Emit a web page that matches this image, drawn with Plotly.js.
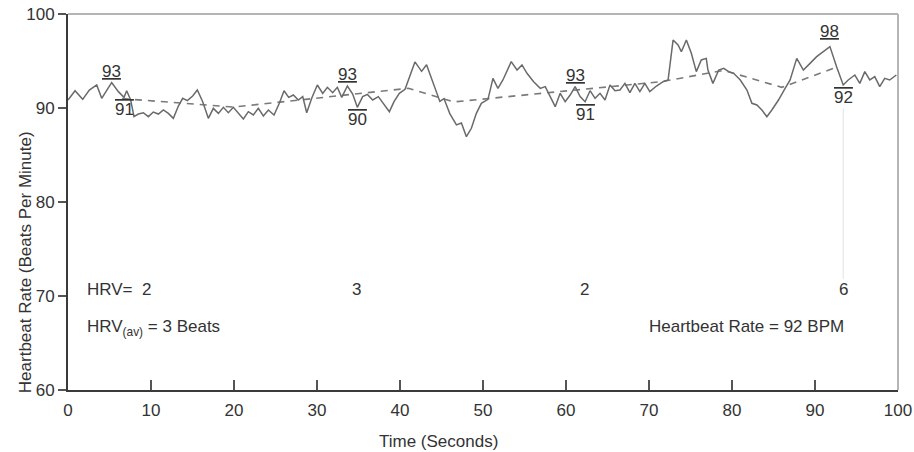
<!DOCTYPE html>
<html>
<head>
<meta charset="utf-8">
<script src="https://cdn.plot.ly/plotly-3.0.1.min.js"></script>
<style>html,body{margin:0;padding:0;background:#fff;}#chart{width:914px;height:452px;}</style>
</head>
<body>
<div id="chart"></div>
<script>
// Heartbeat trace (time in seconds, beats per minute)
const timeSec = [0,0.85,1.77,2.57,3.46,4.06,4.74,5.26,6.07,6.75,7.07,7.55,7.95,8.48,9.08,9.68,10.28,10.89,11.49,12.09,
  12.69,13.3,13.82,14.38,15.02,15.58,16.23,16.91,17.51,18.12,18.72,19.32,19.92,20.52,21.13,21.73,22.33,22.93,23.54,24.14,
  24.82,25.46,26.03,26.59,27.15,27.75,28.28,28.76,29.36,30.04,30.69,31.25,31.89,32.45,32.98,33.66,34.3,34.86,35.5,36.07,
  36.71,37.39,37.99,38.72,39.28,39.92,40.61,
  41.8,42.6,43.2,44.8,45.3,46.0,46.8,47.4,48.0,48.6,49.2,49.8,
  50.6,51.2,51.8,52.4,53.4,54.1,54.7,55.3,56.1,56.9,57.5,58.1,58.7,59.3,59.9,60.5,61.1,61.7,62.3,62.9,
  63.5,64.1,64.7,65.3,65.9,66.5,67.1,67.7,68.3,68.9,69.5,70.1,70.9,71.7,72.3,72.9,73.5,73.9,74.5,75.1,
  75.7,76.3,76.9,77.1,77.7,78.4,79.0,79.6,80.2,81.0,81.8,82.4,83.0,83.6,84.2,84.8,85.6,86.4,87.0,87.8,
  88.6,89.4,90.2,91.0,91.8,92.6,93.4,94.0,94.8,95.4,96.0,96.6,97.2,97.8,98.4,99.0,99.8];
const bpm = [90.85,91.84,90.92,91.91,92.45,91.03,91.99,92.7,91.74,91.13,91.84,90.85,89.08,89.36,89.5,89.08,89.57,89.36,89.79,89.43,
  88.9,90.21,91.03,90.78,91.28,91.91,90.67,88.9,89.96,89.43,90.07,89.5,90.07,89.43,88.83,89.61,89.26,89.96,89.15,89.79,
  89.26,90.5,91.84,91.13,91.38,90.85,91.21,89.5,91.03,92.45,91.56,92.2,91.63,92.2,91.13,92.34,91.49,90.07,91.21,91.45,
  90.85,91.21,90.43,89.61,90.67,91.56,91.99,
  94.9,93.9,94.6,90.7,91.0,89.4,88.2,88.4,86.95,87.84,89.43,90.5,
  90.92,93.16,92.09,92.98,94.93,94.04,94.58,93.69,92.8,92.09,92.27,91.21,90.14,91.56,90.67,91.38,92.27,91.21,90.67,91.84,
  91.03,91.56,90.85,92.45,91.84,91.91,92.62,91.63,92.62,91.74,92.62,91.74,92.34,92.8,92.98,97.23,96.7,95.99,97.23,95.82,
  93.87,95.11,95.28,94.04,92.62,94.04,94.22,93.87,93.69,92.98,91.91,90.5,90.32,89.79,89.08,89.79,90.85,92.09,92.98,95.28,
  94.04,94.75,95.46,95.99,96.53,94.4,92.45,92.98,93.51,92.62,93.87,92.98,93.33,92.27,93.16,92.98,93.51];

// Dashed running-average trend
const trendTime = [6.5, 20, 41, 46.5, 71.5, 79, 86, 92.5];
const trendBpm  = [91.0, 90.1, 92.1, 90.65, 92.8, 94.0, 92.2, 94.3];

// Peak / trough labels
const peakTime   = [5.26, 33.66, 61.1, 91.8];
const peakVal    = [93, 93, 93, 98];
const troughTime = [6.75, 34.86, 62.3, 93.4];
const troughVal  = [91, 90, 91, 92];

// HRV per window
const hrvTime = [9.5, 34.7, 62.2, 93.4];
const hrvVal  = [2, 3, 2, 6];
const hrvAvg = 3;
const heartRate = 92;

const FONT = 'Liberation Sans, Arial, sans-serif';
const TXT = '#333333';

function interp(t) {
  for (let i = 0; i < timeSec.length - 1; i++) {
    if (t >= timeSec[i] && t <= timeSec[i + 1]) {
      const f = (t - timeSec[i]) / (timeSec[i + 1] - timeSec[i]);
      return bpm[i] + f * (bpm[i + 1] - bpm[i]);
    }
  }
  return bpm[bpm.length - 1];
}

const traces = [
  {x: [hrvTime[3], hrvTime[3]], y: [71.8, interp(troughTime[3]) - 2.5], mode: 'lines',
   line: {color: '#e2e2e2', width: 1}, hoverinfo: 'skip', showlegend: false},
  {x: trendTime, y: trendBpm, mode: 'lines', line: {color: '#7a7a7a', width: 1.6, dash: '7px,6px'},
   hoverinfo: 'skip', showlegend: false},
  {x: timeSec, y: bpm, mode: 'lines', line: {color: '#6a6a6a', width: 1.5}, showlegend: false}
];

const ann = [];
peakTime.forEach((t, i) => {
  ann.push({x: t, y: interp(t), xref: 'x', yref: 'y', text: '<u>' + peakVal[i] + '</u>', showarrow: false,
    xanchor: 'center', yanchor: 'bottom', yshift: i === 3 ? 4 : 0, font: {family: FONT, size: 17, color: TXT}});
});
troughTime.forEach((t, i) => {
  ann.push({x: t, y: interp(t), xref: 'x', yref: 'y',
    text: '<span style="text-decoration:overline">' + troughVal[i] + '</span>', showarrow: false,
    xanchor: 'center', yanchor: 'top', yshift: -1, font: {family: FONT, size: 17, color: TXT}});
});
hrvTime.forEach((t, i) => {
  ann.push({x: t, y: 70.7, xref: 'x', yref: 'y', text: String(hrvVal[i]), showarrow: false,
    xanchor: 'center', yanchor: 'middle', font: {family: FONT, size: 17, color: TXT}});
});
ann.push({x: 2, y: 70.7, xref: 'x', yref: 'y', text: 'HRV=', showarrow: false, xanchor: 'left', yanchor: 'middle',
  font: {family: FONT, size: 17, color: TXT}});
ann.push({x: 2, y: 66.6, xref: 'x', yref: 'y', text: 'HRV<sub>(av)</sub> = ' + hrvAvg + ' Beats', showarrow: false,
  xanchor: 'left', yanchor: 'middle', font: {family: FONT, size: 17, color: TXT}});
ann.push({x: 93.7, y: 66.8, xref: 'x', yref: 'y', text: 'Heartbeat Rate = ' + heartRate + ' BPM', showarrow: false,
  xanchor: 'right', yanchor: 'middle', font: {family: FONT, size: 17, color: TXT}});
// axis titles
ann.push({x: 0.446, y: 0, xref: 'paper', yref: 'paper', yshift: -51, text: 'Time (Seconds)', showarrow: false,
  xanchor: 'center', yanchor: 'middle', font: {family: FONT, size: 17, color: TXT}});
ann.push({x: 0, y: 0.34, xref: 'paper', yref: 'paper', xshift: -43, text: 'Heartbeat Rate (Beats Per Minute)',
  textangle: -90, showarrow: false, xanchor: 'center', yanchor: 'middle', font: {family: FONT, size: 17, color: TXT}});

const layout = {
  width: 914, height: 452,
  margin: {l: 68, r: 16, t: 14, b: 62},
  paper_bgcolor: '#ffffff', plot_bgcolor: '#ffffff',
  font: {family: FONT, size: 17, color: TXT},
  showlegend: false,
  xaxis: {range: [0, 100], tickvals: [0,10,20,30,40,50,60,70,80,90,100], ticks: 'inside', ticklen: 10, tickwidth: 1.5,
    tickcolor: '#555', showline: true, linecolor: '#3a3a3a', linewidth: 2, showgrid: false, zeroline: false,
    ticklabelstandoff: 4,
    tickfont: {family: FONT, size: 17, color: TXT}, fixedrange: true},
  yaxis: {range: [60, 100], tickvals: [60,70,80,90,100], ticks: 'outside', ticklen: 8, tickwidth: 1.5,
    tickcolor: '#555', showline: true, linecolor: '#3a3a3a', linewidth: 2, showgrid: false, zeroline: false,
    tickfont: {family: FONT, size: 17, color: TXT}, fixedrange: true},
  shapes: [
    {type: 'line', xref: 'paper', yref: 'paper', x0: 0, x1: 1, y0: 1, y1: 1, line: {color: '#b5b5b5', width: 2}},
    {type: 'line', xref: 'paper', yref: 'paper', x0: 1, x1: 1, y0: 0, y1: 1, line: {color: '#b5b5b5', width: 2}}
  ],
  annotations: ann
};

Plotly.newPlot('chart', traces, layout, {displayModeBar: false, staticPlot: true});
</script>
</body>
</html>
